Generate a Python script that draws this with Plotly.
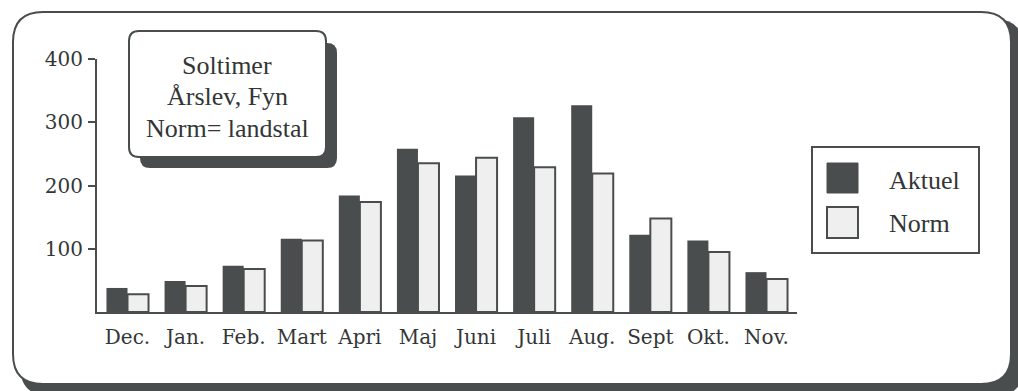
import plotly.graph_objects as go

# Monthly sunshine hours, Årslev (Fyn): measured vs. national norm
months = ["Dec.", "Jan.", "Feb.", "Mart", "Apri", "Maj", "Juni", "Juli",
          "Aug.", "Sept", "Okt.", "Nov."]
aktuel = [38, 49, 73, 116, 184, 258, 216, 308, 327, 122, 113, 63]
norm = [28, 41, 68, 113, 174, 235, 244, 229, 219, 148, 95, 52]
y_ticks = [100, 200, 300, 400]

title_lines = ["Soltimer", "Årslev, Fyn", "Norm= landstal"]
legend_names = ["Aktuel", "Norm"]

DARK = "#4a4d4d"
LIGHT = "#efefef"
TEXT = "#333636"
SERIF = "Liberation Serif, Times New Roman, serif"
TICKFONT = "DejaVu Serif, serif"

W, H = 1018, 391
L, R, T, B = 97, 221, 59, 79
PW, PH = W - L - R, H - T - B


def px_x(px):
    return (px - L) / PW


def px_y(py):
    return (H - B - py) / PH


def rounded_rect(x0, y0, x1, y1, r):
    pts = [
        ("M", [(x0 + r, y0)]), ("L", [(x1 - r, y0)]), ("Q", [(x1, y0), (x1, y0 + r)]),
        ("L", [(x1, y1 - r)]), ("Q", [(x1, y1), (x1 - r, y1)]),
        ("L", [(x0 + r, y1)]), ("Q", [(x0, y1), (x0, y1 - r)]),
        ("L", [(x0, y0 + r)]), ("Q", [(x0, y0), (x0 + r, y0)]),
    ]
    s = ""
    for cmd, coords in pts:
        s += cmd + " " + " ".join(f"{px_x(a):.5f},{px_y(b):.5f}" for a, b in coords) + " "
    return s + "Z"


def rect(x0, y0, x1, y1, **kw):
    return dict(type="rect", xref="paper", yref="paper",
                x0=px_x(x0), x1=px_x(x1), y0=px_y(y1), y1=px_y(y0), **kw)


fig = go.Figure()
fig.add_trace(go.Bar(x=months, y=aktuel, name=legend_names[0],
                     marker=dict(color=DARK, line=dict(width=0))))
fig.add_trace(go.Bar(x=months, y=norm, name=legend_names[1],
                     marker=dict(color=LIGHT, line=dict(color=DARK, width=2))))

shapes = [
    # outer rounded frame with drop shadow
    dict(type="path", xref="paper", yref="paper", layer="below",
         path=rounded_rect(20, 19, 1024, 396, 30), fillcolor=DARK, line=dict(width=0)),
    dict(type="path", xref="paper", yref="paper", layer="below",
         path=rounded_rect(13, 12, 1011, 384, 30), fillcolor="white",
         line=dict(color=DARK, width=2)),
    # title box with drop shadow
    dict(type="path", xref="paper", yref="paper", layer="above",
         path=rounded_rect(140, 43, 337, 168, 10), fillcolor=DARK, line=dict(width=0)),
    dict(type="path", xref="paper", yref="paper", layer="above",
         path=rounded_rect(129, 31, 326, 157, 10), fillcolor="white",
         line=dict(color=DARK, width=2)),
    # legend box and swatches
    rect(812, 147, 979, 253, layer="above", fillcolor="white", line=dict(color=DARK, width=2)),
    rect(827, 163, 858, 193, layer="above", fillcolor=DARK, line=dict(color=DARK, width=1)),
    rect(827, 207, 858, 238, layer="above", fillcolor=LIGHT, line=dict(color=DARK, width=2)),
]

annotations = []
for i, line in enumerate(title_lines):
    annotations.append(dict(x=px_x(227), y=px_y(65 + i * 31.5), xref="paper", yref="paper",
                            text=line, showarrow=False, xanchor="center", yanchor="middle",
                            font=dict(family=SERIF, size=26, color=TEXT)))
for name, cy in zip(legend_names, [180, 223]):
    annotations.append(dict(x=px_x(887), y=px_y(cy), xref="paper", yref="paper",
                            text=name, showarrow=False, xanchor="left", yanchor="middle",
                            font=dict(family=SERIF, size=26, color=TEXT)))

fig.update_layout(
    width=W, height=H,
    margin=dict(l=L, r=R, t=T, b=B, pad=0),
    paper_bgcolor="white", plot_bgcolor="rgba(0,0,0,0)",
    barmode="group", bargap=0.276, bargroupgap=0,
    showlegend=False,
    shapes=shapes, annotations=annotations,
    xaxis=dict(type="category", range=[-0.525, 11.525], showline=True, linecolor=DARK,
               linewidth=2, ticks="", showgrid=False, zeroline=False,
               ticklabelstandoff=6,
               tickfont=dict(family=TICKFONT, size=20, color=TEXT)),
    yaxis=dict(range=[0, 400], tickvals=y_ticks, showline=True, linecolor=DARK, linewidth=2,
               ticks="outside", ticklen=7, tickwidth=2, tickcolor=DARK,
               showgrid=False, zeroline=False, ticklabelstandoff=1,
               tickfont=dict(family=TICKFONT, size=20, color=TEXT)),
)

fig.write_html("out.html")
